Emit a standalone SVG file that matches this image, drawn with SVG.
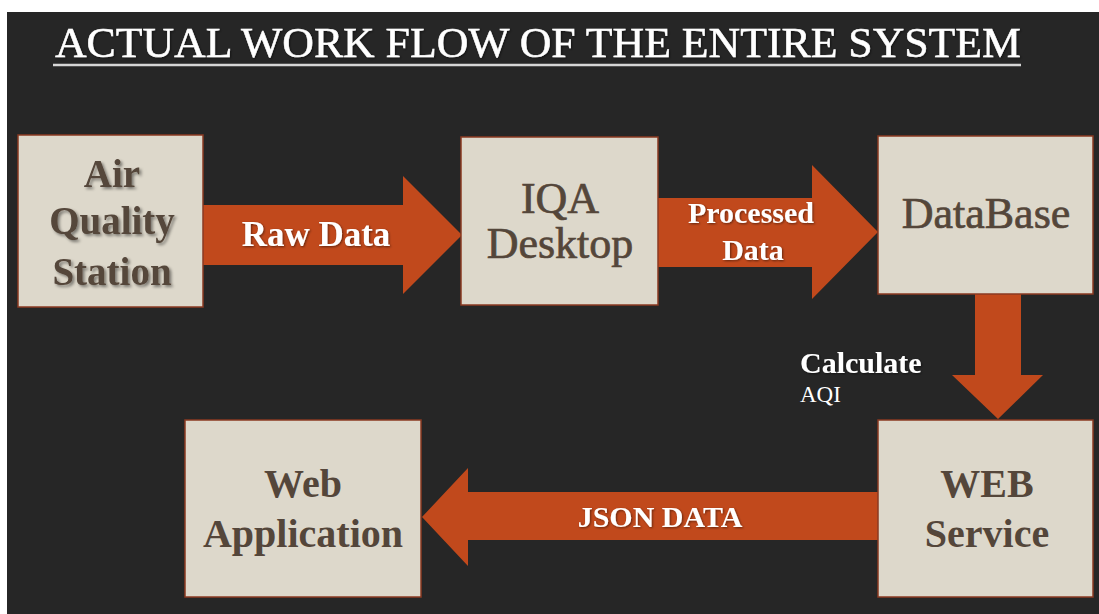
<svg xmlns="http://www.w3.org/2000/svg" width="1099" height="614" viewBox="0 0 1099 614">
<defs>
<style>
.box{fill:#ddd8cb;stroke:#8a3a22;stroke-width:1.5}
.bt{font-family:"Liberation Serif",serif;fill:#54463a;text-anchor:middle}
.b{font-weight:bold}
.m{stroke:#54463a;stroke-width:0.7}
.arr{fill:#c1491c}
.at{font-family:"Liberation Serif",serif;fill:#ffffff;font-weight:bold;text-anchor:middle}
</style>
<filter id="sh" x="-10%" y="-20%" width="120%" height="140%">
<feGaussianBlur in="SourceAlpha" stdDeviation="1.5"/>
<feOffset dx="2" dy="2" result="o"/>
<feFlood flood-color="#000" flood-opacity="0.45"/>
<feComposite in2="o" operator="in"/>
<feMerge><feMergeNode/><feMergeNode in="SourceGraphic"/></feMerge>
</filter>
<filter id="sh2" x="-10%" y="-20%" width="120%" height="140%">
<feGaussianBlur in="SourceAlpha" stdDeviation="0.8"/>
<feOffset dx="1" dy="1" result="o"/>
<feFlood flood-color="#000" flood-opacity="0.5"/>
<feComposite in2="o" operator="in"/>
<feMerge><feMergeNode/><feMergeNode in="SourceGraphic"/></feMerge>
</filter>
</defs>
<rect x="0" y="0" width="1099" height="614" fill="#ffffff"/>
<rect x="7" y="12" width="1092" height="602" fill="#262626"/>
<g id="title">
<text x="55" y="57" font-family="Liberation Serif, serif" font-size="43" fill="#ffffff" stroke="#ffffff" stroke-width="0.5" textLength="966" lengthAdjust="spacingAndGlyphs" filter="url(#sh2)">ACTUAL WORK FLOW OF THE ENTIRE SYSTEM</text>
<line x1="53" y1="65" x2="1021" y2="65" stroke="#d6d6d6" stroke-width="2.5"/>
</g>
<g id="connectors">
<g id="raw-data">
<polygon class="arr" points="203,205 403,205 403,176 462,235 403,294 403,265 203,265"/>
<text class="at" x="316" y="246" font-size="35" filter="url(#sh2)">Raw Data</text>
</g>
<g id="processed-data">
<polygon class="arr" points="658,198 812,198 812,165 878,232 812,299 812,267 658,267"/>
<text class="at" x="751" y="223" font-size="30" filter="url(#sh2)">Processed</text>
<text class="at" x="753" y="260" font-size="30" filter="url(#sh2)">Data</text>
</g>
<g id="calculate-aqi">
<polygon class="arr" points="975,294 1021,294 1021,375 1043,375 998,419 952,375 975,375"/>
<text x="800" y="373" font-family="Liberation Serif, serif" font-size="30" font-weight="bold" fill="#ffffff" filter="url(#sh2)">Calculate</text>
<text x="800" y="402" font-family="Liberation Serif, serif" font-size="23" fill="#ffffff">AQI</text>
</g>
<g id="json-data">
<polygon class="arr" points="878,492 468,492 468,468 422,517 468,566 468,540 878,540"/>
<text class="at" x="660" y="527" font-size="30" filter="url(#sh2)">JSON DATA</text>
</g>
</g>
<g id="air-quality-station">
<rect class="box" x="18" y="135" width="185" height="172"/>
<g filter="url(#sh)">
<text class="bt b" x="112" y="187" font-size="39">Air</text>
<text class="bt b" x="112" y="234" font-size="39">Quality</text>
<text class="bt b" x="112" y="285" font-size="39">Station</text>
</g>
</g>
<g id="iqa-desktop">
<rect class="box" x="461" y="137" width="197" height="168"/>
<text class="bt m" x="560" y="213" font-size="44">IQA</text>
<text class="bt m" x="560" y="258" font-size="44">Desktop</text>
</g>
<g id="database">
<rect class="box" x="878" y="136" width="215" height="158"/>
<text class="bt m" x="986" y="228" font-size="44">DataBase</text>
</g>
<g id="web-service">
<rect class="box" x="878" y="420" width="215" height="177"/>
<text class="bt b" x="987" y="497" font-size="40">WEB</text>
<text class="bt b" x="987" y="547" font-size="40">Service</text>
</g>
<g id="web-application">
<rect class="box" x="185" y="420" width="236" height="177"/>
<text class="bt b" x="303" y="497" font-size="40">Web</text>
<text class="bt b" x="303" y="547" font-size="40">Application</text>
</g>
</svg>
